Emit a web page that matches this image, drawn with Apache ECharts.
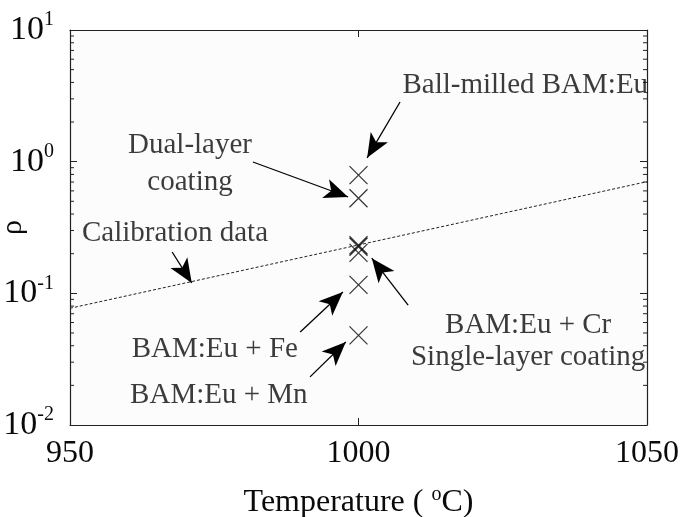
<!DOCTYPE html>
<html><head><meta charset="utf-8">
<script src="https://cdn.jsdelivr.net/npm/echarts@6/dist/echarts.min.js"></script>
<style>html,body{margin:0;padding:0;background:#fff}#c{width:681px;height:517px}</style>
</head><body><div id="c"></div>
<script>
// ---- data ----
const xTicks = [950, 1000, 1050];
const yTicks = [0.01, 0.1, 1, 10];
const minorYTicks = [0.02,0.03,0.04,0.05,0.06,0.07,0.08,0.09,0.2,0.3,0.4,0.5,0.6,0.7,0.8,0.9,2,3,4,5,6,7,8,9];
const sampleTemp = [1000, 1000, 1000, 1000, 1000, 1000, 1000];
const sampleRho  = [0.79, 0.527, 0.232, 0.226, 0.203, 0.116, 0.048];
const calibTemp = [950, 1000, 1050];
const calibRho  = [0.077, 0.233, 0.705];
// annotation texts: [temperature, rho, text]
const noteText = [
  [1028.9, 3.82, 'Ball-milled BAM:Eu'],
  [970.8, 1.34, 'Dual-layer'],
  [970.8, 0.70, 'coating'],
  [968.2, 0.287, 'Calibration data'],
  [975.1, 0.0378, 'BAM:Eu + Fe'],
  [975.8, 0.0169, 'BAM:Eu + Mn'],
  [1029.4, 0.0575, 'BAM:Eu + Cr'],
  [1029.4, 0.0329, 'Single-layer coating']
];
// arrows: [fromTemp, fromRho, toTemp, toRho]
const noteArrows = [
  [1007.2, 2.84, 1001.5, 1.07],
  [981.7, 0.994, 998.2, 0.539],
  [967.7, 0.206, 971.1, 0.12],
  [989.9, 0.0508, 997.3, 0.1023],
  [991.6, 0.0232, 997.8, 0.0427],
  [1008.6, 0.0815, 1002.3, 0.185]
];

const FONT = 'Liberation Serif';
const AX = '#222';
const TXT = '#0a0a0a';
const chart = echarts.init(document.getElementById('c'));

const commonX = {
  type: 'value', min: 950, max: 1050, interval: 50,
  axisLine: {show: true, onZero: false, lineStyle: {color: AX, width: 1.2}},
  axisTick: {show: true, inside: true, length: 7, lineStyle: {color: AX}},
  splitLine: {show: false}
};
const commonY = {
  type: 'log', logBase: 10, min: 0.01, max: 10,
  axisLine: {show: true, onZero: false, lineStyle: {color: AX, width: 1.2}},
  axisTick: {show: true, inside: true, length: 7, lineStyle: {color: AX}},
  minorTick: {show: false},
  splitLine: {show: false}
};

chart.setOption({
  animation: false,
  backgroundColor: '#ffffff',
  grid: {left: 70, right: 34, top: 30, bottom: 92, show: true, backgroundColor: '#fcfcfc', borderWidth: 0,
    containLabel: false, outerBoundsMode: 'none'},
  xAxis: [
    Object.assign({}, commonX, {
      position: 'bottom',
      name: 'Temperature ( {s|o}C)', nameLocation: 'middle', nameGap: 60, nameMoveOverlap: false,
      nameTextStyle: {fontFamily: FONT, fontSize: 32, color: TXT,
        rich: {s: {fontFamily: FONT, fontSize: 20, color: TXT, padding: [0, 0, 16, 0]}}},
      axisLabel: {show: true, margin: 13, fontFamily: FONT, fontSize: 32, color: TXT,
        formatter: v => xTicks.includes(v) ? String(v) : ''}
    }),
    Object.assign({}, commonX, {position: 'top', axisLabel: {show: false}})
  ],
  yAxis: [
    Object.assign({}, commonY, {
      position: 'left',
      name: 'ρ', nameLocation: 'middle', nameGap: 42, nameRotate: 90, nameMoveOverlap: false,
      nameTextStyle: {fontFamily: FONT, fontSize: 30, color: TXT},
      axisLabel: {show: true, margin: 16, color: TXT,
        formatter: v => {
          const e = Math.round(Math.log10(v));
          return yTicks.some(t => Math.abs(t - v) < 1e-9) ? '{b|10}{s|' + e + '}' : '';
        },
        rich: {
          b: {fontFamily: FONT, fontSize: 34, color: TXT},
          s: {fontFamily: FONT, fontSize: 20, color: TXT, padding: [0, 0, 20, 0]}
        }}
    }),
    Object.assign({}, commonY, {position: 'right', axisLabel: {show: false}})
  ],
  series: [
    {
      type: 'custom', name: 'minorTicks', xAxisIndex: 0, yAxisIndex: 0, silent: true,
      data: minorYTicks.map(v => [950, v]),
      renderItem: (params, api) => {
        const l = api.coord([950, api.value(1)]);
        const r = api.coord([1050, api.value(1)]);
        return {type: 'group', children: [
          {type: 'line', shape: {x1: l[0], y1: l[1], x2: l[0] + 4, y2: l[1]}, style: {stroke: AX, lineWidth: 1}},
          {type: 'line', shape: {x1: r[0], y1: r[1], x2: r[0] - 4, y2: r[1]}, style: {stroke: AX, lineWidth: 1}}
        ]};
      }
    },
    {
      type: 'line', name: 'Calibration', data: calibTemp.map((t, i) => [t, calibRho[i]]),
      showSymbol: false, symbol: 'none',
      lineStyle: {color: '#222', width: 1, type: [3, 2]}
    },
    {
      type: 'scatter', name: 'Samples', data: sampleTemp.map((t, i) => [t, sampleRho[i]]),
      symbol: 'path://M0,0L10,10M10,0L0,10', symbolSize: 18,
      itemStyle: {color: 'rgba(0,0,0,0)', borderColor: '#000', borderWidth: 1.2}
    },
    {
      type: 'scatter', name: 'notes', symbolSize: 0, silent: true,
      data: noteText.map(n => ({value: [n[0], n[1]], name: n[2]})),
      label: {show: true, position: 'inside', formatter: p => p.name,
        fontFamily: FONT, fontSize: 29, color: TXT, textBorderWidth: 0},
      markLine: {
        silent: true, symbol: ['none', 'arrow'], symbolSize: [15, 24],
        label: {show: false},
        lineStyle: {color: '#000', width: 1.3, type: 'solid'},
        data: noteArrows.map(a => [{coord: [a[0], a[1]]}, {coord: [a[2], a[3]]}])
      }
    }
  ]
});
</script></body></html>
